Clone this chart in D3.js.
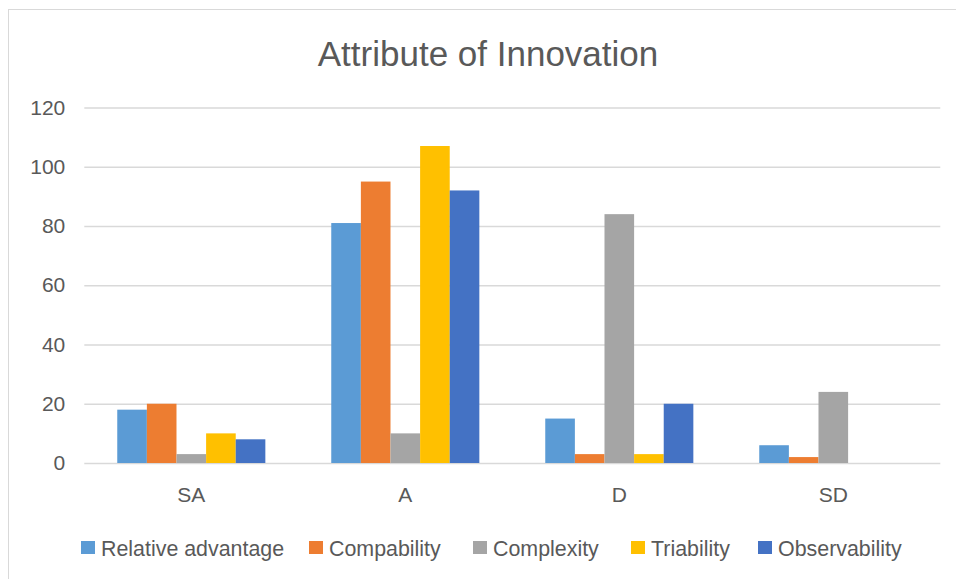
<!DOCTYPE html>
<html>
<head>
<meta charset="utf-8">
<script src="https://cdn.jsdelivr.net/npm/d3@7/dist/d3.min.js"></script>
<style>
  html, body { margin: 0; padding: 0; background: #fff; }
  svg { display: block; font-family: "Liberation Sans", Arial, sans-serif; }
</style>
</head>
<body>
<svg id="chart" width="956" height="579"></svg>
<script>
// Survey responses per attribute of innovation
const categories = ["SA", "A", "D", "SD"];
const seriesNames = ["Relative advantage", "Compability", "Complexity", "Triability", "Observability"];
const seriesColors = ["#5B9BD5", "#ED7D31", "#A5A5A5", "#FFC000", "#4472C4"];
const relativeAdvantage = [18, 81, 15, 6];
const compability = [20, 95, 3, 2];
const complexity = [3, 10, 84, 24];
const triability = [10, 107, 3, 0];
const observability = [8, 92, 20, 0];
const yTicks = [0, 20, 40, 60, 80, 100, 120];
const titleText = "Attribute of Innovation";

const seriesValues = [relativeAdvantage, compability, complexity, triability, observability];

const svg = d3.select("#chart");
const textColor = "#595959";
const gridColor = "#D9D9D9";
const labelSize = 21;

// Chart frame
svg.append("rect")
  .attr("x", 8.5).attr("y", 9.5)
  .attr("width", 1000).attr("height", 1000)
  .attr("fill", "#fff")
  .attr("stroke", gridColor)
  .attr("stroke-width", 1);

// Title
svg.append("text")
  .attr("x", 488).attr("y", 66)
  .attr("text-anchor", "middle")
  .attr("font-size", 35)
  .attr("fill", textColor)
  .text(titleText);

const plot = { left: 84.3, right: 940.3, top: 107.5, bottom: 463 };

const y = d3.scaleLinear().domain([0, 120]).range([plot.bottom, plot.top]);
const x0 = d3.scaleBand().domain(categories)
  .range([plot.left, plot.right])
  .paddingInner(0.308).paddingOuter(0.154);
const x1 = d3.scaleBand().domain(d3.range(seriesNames.length))
  .range([0, x0.bandwidth()]);

// Horizontal gridlines and value labels
const yAxis = d3.axisLeft(y).tickValues(yTicks)
  .tickSize(-(plot.right - plot.left)).tickPadding(19);
const yg = svg.append("g")
  .attr("transform", `translate(${plot.left},0)`)
  .call(yAxis);
yg.select(".domain").remove();
yg.selectAll(".tick line").attr("stroke", gridColor).attr("stroke-width", 1.3);
yg.selectAll(".tick text")
  .attr("fill", textColor)
  .attr("font-size", labelSize)
  .attr("font-family", "Liberation Sans, Arial, sans-serif");

// Bars
const groups = svg.append("g").selectAll("g")
  .data(categories)
  .join("g")
  .attr("transform", c => `translate(${x0(c)},0)`);

groups.selectAll("rect")
  .data((c, ci) => seriesValues.map((vals, si) => ({ si, v: vals[ci] })))
  .join("rect")
  .attr("x", d => x1(d.si))
  .attr("width", x1.bandwidth())
  .attr("y", d => y(d.v))
  .attr("height", d => y(0) - y(d.v))
  .attr("fill", d => seriesColors[d.si]);

// Category axis
const xAxis = d3.axisBottom(x0).tickSize(0).tickPadding(24);
const xg = svg.append("g")
  .attr("transform", `translate(0,${plot.bottom})`)
  .call(xAxis);
xg.select(".domain").remove();
xg.selectAll(".tick text")
  .attr("fill", textColor)
  .attr("font-size", labelSize)
  .attr("font-family", "Liberation Sans, Arial, sans-serif");

// Legend entries at fixed slots along the bottom
const legendX = [81, 309, 473, 631, 758];
const legend = svg.append("g").attr("transform", "translate(0,548)");
const items = legend.selectAll("g")
  .data(seriesNames)
  .join("g")
  .attr("transform", (d, i) => `translate(${legendX[i]},0)`);
items.append("rect")
  .attr("width", 14).attr("height", 13)
  .attr("y", -7)
  .attr("fill", (d, i) => seriesColors[i]);
items.append("text")
  .attr("x", 20)
  .attr("dy", "0.35em")
  .attr("font-size", 21.4)
  .attr("fill", textColor)
  .text(d => d);
</script>
</body>
</html>
